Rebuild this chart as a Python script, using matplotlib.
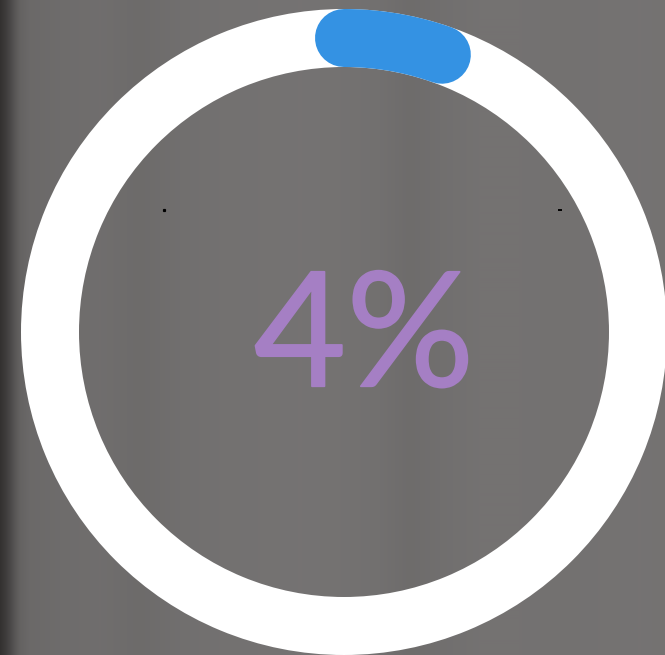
import numpy as np
import matplotlib
matplotlib.use("Agg")
import matplotlib.pyplot as plt
import matplotlib.patheffects as pe
from matplotlib.patches import Wedge

# ---- data ----
label_value = 4              # percent shown in the centre
arc_fraction = 0.054         # fraction of the ring covered by the blue arc (as drawn)
# background column shades (x position in px, grey level 0-255)
bg_x = [0, 5, 10, 15, 20, 30, 60, 100, 140, 180, 220, 260, 300, 340, 380, 410, 440, 480, 520, 560, 600, 640, 665]
bg_level = [0x30, 0x3a, 0x47, 0x56, 0x62, 0x69, 0x6c, 0x6e, 0x6b, 0x6f, 0x71, 0x72, 0x73, 0x72, 0x70, 0x6c, 0x6f, 0x72, 0x72, 0x71, 0x72, 0x73, 0x72]

W, H = 665, 655
fig = plt.figure(figsize=(W / 100, H / 100), dpi=100)
ax = fig.add_axes([0, 0, 1, 1])
ax.set_xlim(0, W)
ax.set_ylim(H, 0)
ax.set_aspect("auto")
ax.axis("off")

# background
cols = np.interp(np.arange(W) + 0.5, bg_x, bg_level) / 255.0
img = np.zeros((2, W, 3))
img[:, :, 0] = cols + 0.008
img[:, :, 1] = cols
img[:, :, 2] = cols - 0.002
img = np.clip(img, 0, 1)
ax.imshow(img, extent=(0, W, H, 0), aspect="auto", interpolation="bilinear", zorder=0)

cx, cy = 344, 332
r_out, ring_w = 323, 58
ax.add_patch(Wedge((cx, cy), r_out, 0, 360, width=ring_w, facecolor="white", edgecolor="none", zorder=1))

# blue progress arc (clockwise from top)
r_mid = r_out - ring_w / 2
theta = np.linspace(0, 2 * np.pi * arc_fraction, 100)
ax.plot(cx + r_mid * np.sin(theta), cy - r_mid * np.cos(theta),
        color="#3492e3", linewidth=ring_w * 0.72, solid_capstyle="round", zorder=2)

ax.text(364, 341, f"{label_value}%", fontsize=115, family="Lato", color="#a57fc4",
        ha="center", va="center", zorder=3,
        path_effects=[pe.withStroke(linewidth=1.3, foreground="#a57fc4")])

# tiny marks
ax.plot([164], [209.5], marker="s", markersize=1.3, color="black", linestyle="none", zorder=3)
ax.plot([558, 562], [209.5, 209.5], color="black", linewidth=1.4, solid_capstyle="butt", zorder=3)

fig.savefig("out.png", dpi=100)
